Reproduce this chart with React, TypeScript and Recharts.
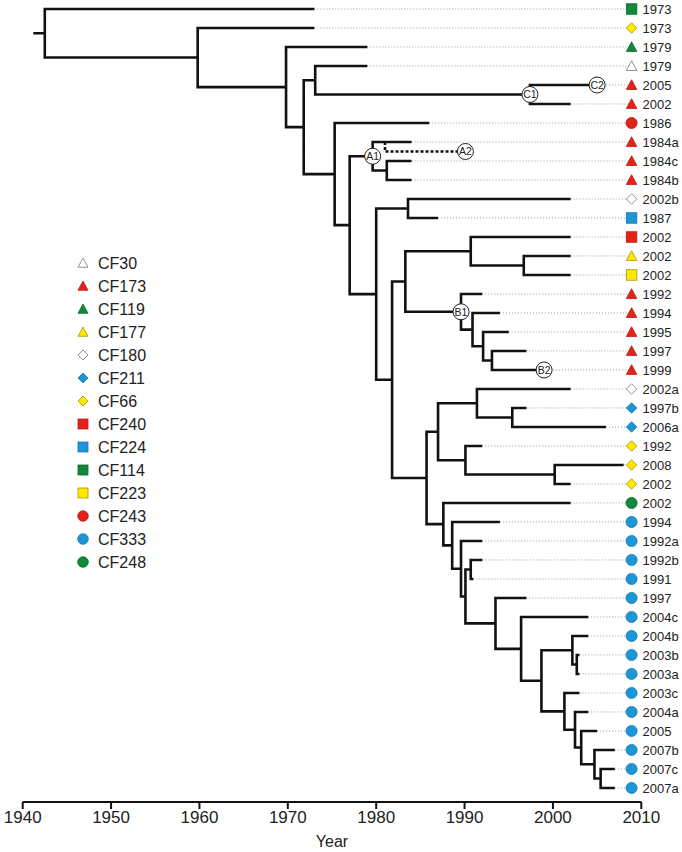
import { ComposedChart, Line, Scatter, XAxis, YAxis, Legend } from 'recharts';

const FONT = 'Arial, "Liberation Sans", Helvetica, sans-serif';

// tips, top to bottom
const tipLabels = [
  '1973', '1973', '1979', '1979', '2005', '2002', '1986', '1984a', '1984c', '1984b',
  '2002b', '1987', '2002', '2002', '2002', '1992', '1994', '1995', '1997', '1999',
  '2002a', '1997b', '2006a', '1992', '2008', '2002', '2002', '1994', '1992a', '1992b',
  '1991', '1997', '2004c', '2004b', '2003b', '2003a', '2003c', '2004a', '2005', '2007b',
  '2007c', '2007a',
];
const tipYears = [
  1973, 1973, 1979, 1979, 2005, 2002, 1986, 1984, 1984, 1984,
  2002, 1987, 2002, 2002, 2002, 1992, 1994, 1995, 1997, 1999,
  2002, 1997, 2006, 1992, 2008, 2002, 2002, 1994, 1992, 1992,
  1991, 1997, 2004, 2004, 2003, 2003, 2003, 2004, 2005, 2007,
  2007, 2007,
];
const tipGroups = [
  'CF114', 'CF66', 'CF119', 'CF30', 'CF173', 'CF173', 'CF243', 'CF173', 'CF173', 'CF173',
  'CF180', 'CF224', 'CF240', 'CF177', 'CF223', 'CF173', 'CF173', 'CF173', 'CF173', 'CF173',
  'CF180', 'CF211', 'CF211', 'CF66', 'CF66', 'CF66', 'CF248', 'CF333', 'CF333', 'CF333',
  'CF333', 'CF333', 'CF333', 'CF333', 'CF333', 'CF333', 'CF333', 'CF333', 'CF333', 'CF333',
  'CF333', 'CF333',
];

// internal nodes: name, year of the split, two children
const nodeNames = [
  'root', 'n1', 'n2', 'n3', 'n4', 'c1', 'n5', 'n6', 'a1', 'n8',
  'n7', 'n9', 'n10', 'n11', 'n13', 'n14', 'b1', 'n15', 'n16', 'n17',
  'n12', 'n18', 'n20', 'n22', 'n21', 'n23', 'n19', 'n24', 'n25', 'n26',
  'n27', 'n28', 'n29', 'n30', 'n31', 'n33', 'n32', 'n34', 'n35', 'n36',
  'n37',
];
const nodeYears = [
  1942.5, 1959.8, 1969.8, 1971.8, 1973.1, 1997.4, 1975.3, 1977.0, 1979.6, 1981.2,
  1980.0, 1983.6, 1981.8, 1983.3, 1990.7, 1996.7, 1989.6, 1990.9, 1992.1, 1993.1,
  1985.7, 1987.0, 1991.4, 1995.4, 1990.1, 2000.2, 1987.6, 1988.6, 1989.6, 1990.1,
  1990.7, 1993.5, 1996.4, 1998.7, 2002.2, 2002.7, 2001.3, 2002.5, 2003.2, 2004.7,
  2005.4,
];
const nodeKids = [
  ['t0', 'n1'], ['t1', 'n2'], ['t2', 'n3'], ['n4', 'n5'], ['t3', 'c1'], ['t4', 't5'], ['t6', 'n6'], ['a1', 'n7'], ['t7', 'n8'], ['t8', 't9'],
  ['n9', 'n10'], ['t10', 't11'], ['n11', 'n12'], ['n13', 'b1'], ['t12', 'n14'], ['t13', 't14'], ['t15', 'n15'], ['t16', 'n16'], ['t17', 'n17'], ['t18', 't19'],
  ['n18', 'n19'], ['n20', 'n21'], ['t20', 'n22'], ['t21', 't22'], ['t23', 'n23'], ['t24', 't25'], ['t26', 'n24'], ['t27', 'n25'], ['t28', 'n26'], ['n27', 'n28'],
  ['t29', 't30'], ['t31', 'n29'], ['t32', 'n30'], ['n31', 'n32'], ['t33', 'n33'], ['t34', 't35'], ['t36', 'n34'], ['t37', 'n35'], ['t38', 'n36'], ['t39', 'n37'],
  ['t40', 't41'],
];
const rootStubYear = 1941.2;
const markerYear = 2008.9;

// A2: side branch off 1984a
const a2From = 1981.0;
const a2Year = 1990.1;
const a2Row = 7.5;

const annotNames = ['A1', 'B1', 'C1', 'B2', 'C2'];
const annotAt = ['a1', 'b1', 'c1', 't19', 't4'];

const yearTicks = [1940, 1950, 1960, 1970, 1980, 1990, 2000, 2010];

const legendNames = ['CF30', 'CF173', 'CF119', 'CF177', 'CF180', 'CF211', 'CF66', 'CF240', 'CF224', 'CF114', 'CF223', 'CF243', 'CF333', 'CF248'];

const RED = '#e2231a';
const GREEN = '#12883b';
const BLUE = '#1b96d6';
const YELLOW = '#ffe900';

const groupStyle: Record<string, { shape: string; fill: string; stroke: string }> = {
  CF30: { shape: 'triangle', fill: '#fff', stroke: '#777' },
  CF173: { shape: 'triangle', fill: RED, stroke: '#b81a12' },
  CF119: { shape: 'triangle', fill: GREEN, stroke: '#0c6a2d' },
  CF177: { shape: 'triangle', fill: YELLOW, stroke: '#a69600' },
  CF180: { shape: 'diamond', fill: '#fff', stroke: '#777' },
  CF211: { shape: 'diamond', fill: BLUE, stroke: '#1677a8' },
  CF66: { shape: 'diamond', fill: YELLOW, stroke: '#a69600' },
  CF240: { shape: 'square', fill: RED, stroke: '#b81a12' },
  CF224: { shape: 'square', fill: BLUE, stroke: '#1677a8' },
  CF114: { shape: 'square', fill: GREEN, stroke: '#0c6a2d' },
  CF223: { shape: 'square', fill: YELLOW, stroke: '#a69600' },
  CF243: { shape: 'circle', fill: RED, stroke: '#b81a12' },
  CF333: { shape: 'circle', fill: BLUE, stroke: '#1677a8' },
  CF248: { shape: 'circle', fill: GREEN, stroke: '#0c6a2d' },
};

const nodeIndex: Record<string, number> = {};
nodeNames.forEach((n, i) => (nodeIndex[n] = i));

function rowOf(id: string): number {
  if (id[0] === 't') return Number(id.slice(1));
  const [a, b] = nodeKids[nodeIndex[id]];
  return (rowOf(a) + rowOf(b)) / 2;
}
function endOf(id: string): number {
  if (id[0] === 't') return tipYears[Number(id.slice(1))];
  return nodeYears[nodeIndex[id]];
}

type Pt = { x: number; y: number | null };

const branchData: Pt[] = [];
{
  const r = rowOf('root');
  branchData.push({ x: rootStubYear, y: r }, { x: nodeYears[0], y: r }, { x: nodeYears[0], y: null });
  nodeNames.forEach((n, i) => {
    const [a, b] = nodeKids[i];
    const ya = rowOf(a);
    const yb = rowOf(b);
    branchData.push(
      { x: endOf(a), y: ya },
      { x: nodeYears[i], y: ya },
      { x: nodeYears[i], y: yb },
      { x: endOf(b), y: yb },
      { x: endOf(b), y: null },
    );
  });
}

const guideData: Pt[] = [];
tipYears.forEach((yr, i) => {
  guideData.push({ x: yr, y: i }, { x: markerYear, y: i }, { x: markerYear, y: null });
});

const a2Data: Pt[] = [
  { x: a2From, y: 7 },
  { x: a2From, y: a2Row },
  { x: a2Year, y: a2Row },
];

const tipData = tipLabels.map((label, i) => ({ x: markerYear, y: i, label, group: tipGroups[i] }));

const annotData = [
  ...annotNames.map((name, i) => ({ x: endOf(annotAt[i]), y: rowOf(annotAt[i]), name })),
  { x: a2Year, y: a2Row, name: 'A2' },
];

function symbol(group: string, cx: number, cy: number, s: number) {
  const st = groupStyle[group];
  const h = s / 2;
  const common = { fill: st.fill, stroke: st.stroke, strokeWidth: 0.8 };
  if (st.shape === 'square') return <rect x={cx - h} y={cy - h} width={s} height={s} {...common} />;
  if (st.shape === 'circle') return <circle cx={cx} cy={cy} r={h + 0.3} {...common} />;
  if (st.shape === 'diamond')
    return <polygon points={`${cx},${cy - h} ${cx + h},${cy} ${cx},${cy + h} ${cx - h},${cy}`} {...common} />;
  return <polygon points={`${cx},${cy - h} ${cx + h},${cy + h * 0.85} ${cx - h},${cy + h * 0.85}`} {...common} />;
}

const TipMark = (props: any) => {
  const { cx, cy, payload } = props;
  return (
    <g>
      {symbol(payload.group, cx, cy, 10.5)}
      <text x={cx + 11} y={cy} dy="0.36em" fontSize={13} fill="#222" fontFamily={FONT}>
        {payload.label}
      </text>
    </g>
  );
};

const AnnotMark = (props: any) => {
  const { cx, cy, payload } = props;
  return (
    <g>
      <circle cx={cx} cy={cy} r={8} fill="#fff" stroke="#222" strokeWidth={1} />
      <text x={cx} y={cy} dy="0.36em" textAnchor="middle" fontSize={10.5} fill="#222" fontFamily={FONT}>
        {payload.name}
      </text>
    </g>
  );
};

const YearTick = (props: any) => {
  const { x, y, payload } = props;
  return (
    <text x={x} y={y} dy="0.71em" textAnchor="middle" fontSize={17} fill="#222" fontFamily={FONT}>
      {payload.value}
    </text>
  );
};

const YearLabel = (props: any) => {
  const { viewBox } = props;
  return (
    <text x={viewBox.x + viewBox.width / 2} y={viewBox.y + viewBox.height - 5} textAnchor="middle" fontSize={16} fill="#222" fontFamily={FONT}>
      Year
    </text>
  );
};

const renderLegend = () => (
  <svg width={110} height={330}>
    {legendNames.map((name, i) => (
      <g key={name}>
        {symbol(name, 13, 13 + i * 23, 10)}
        <text x={28} y={13 + i * 23} dy="0.36em" fontSize={16} fill="#222" fontFamily={FONT}>
          {name}
        </text>
      </g>
    ))}
  </svg>
);

export default function App() {
  return (
    <div style={{ position: 'absolute', left: 0, top: 0, background: '#fff' }}>
      <ComposedChart width={682} height={852} margin={{ top: 9, right: 40.7, bottom: 0, left: 22.7 }}>
        <XAxis
          type="number"
          dataKey="x"
          domain={[1940, 2010]}
          ticks={yearTicks}
          height={50}
          tickSize={7}
          tickMargin={2}
          axisLine={{ stroke: '#111', strokeWidth: 2 }}
          tickLine={{ stroke: '#111', strokeWidth: 2 }}
          tick={YearTick}
          label={YearLabel}
        />
        <YAxis type="number" dataKey="y" hide reversed domain={[0, 41.74]} />
        <Legend
          content={renderLegend}
          layout="horizontal"
          verticalAlign="middle"
          align="center"
          wrapperStyle={{ left: 70, top: 250, width: 110, height: 330 }}
        />
        <Line
          data={guideData}
          dataKey="y"
          stroke="#9a9a9a"
          strokeWidth={1}
          strokeDasharray="1 2"
          dot={false}
          activeDot={false}
          isAnimationActive={false}
        />
        <Line
          data={branchData}
          dataKey="y"
          stroke="#111"
          strokeWidth={2.6}
          dot={false}
          activeDot={false}
          isAnimationActive={false}
        />
        <Line
          data={a2Data}
          dataKey="y"
          stroke="#111"
          strokeWidth={2.6}
          strokeDasharray="3 2"
          dot={false}
          activeDot={false}
          isAnimationActive={false}
        />
        <Scatter data={tipData} shape={TipMark} isAnimationActive={false} />
        <Scatter data={annotData} shape={AnnotMark} isAnimationActive={false} />
      </ComposedChart>
    </div>
  );
}
